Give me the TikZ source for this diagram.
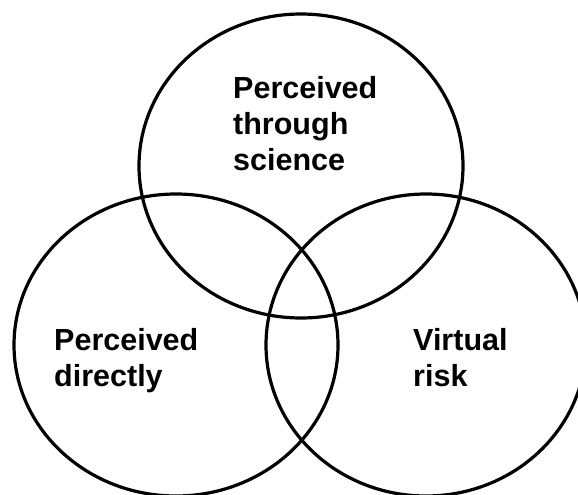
\documentclass[tikz,border=0pt]{standalone}
\usepackage{fontspec}
\setmainfont{Liberation Sans}
\usepackage{tikz}
\tikzstyle{ring} = [draw, line width=3.2pt]
\tikzstyle{venntext} = [anchor=base west, inner sep=0pt, align=left, font=\bfseries\fontsize{30.5}{36}\selectfont]

\begin{document}
\begin{tikzpicture}[x=1pt, y=-1pt]
	\useasboundingbox (0,0) rectangle (578,495);
	\clip (0,0) rectangle (578,495);
	% -------------- Circles --------------
	\draw[ring] (301,166) ellipse [x radius=162, y radius=152];
	\draw[ring] (176,345) ellipse [x radius=162, y radius=151];
	\draw[ring] (426,345) ellipse [x radius=160, y radius=151];
	% -------------- Labels --------------
	\node[venntext] (science) at (233,170) {Perceived\\through\\science};
	\node[venntext] (direct)  at (54,386)  {Perceived\\directly};
	\node[venntext] (virtual) at (413,386) {Virtual\\risk};
\end{tikzpicture}
\end{document}
